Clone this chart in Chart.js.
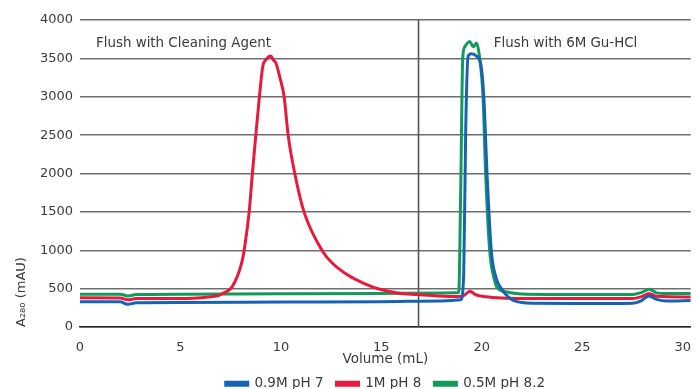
<!DOCTYPE html>
<html>
<head>
<meta charset="utf-8">
<script src="https://cdn.jsdelivr.net/npm/chart.js@4/dist/chart.umd.min.js"></script>
<style>
html,body{margin:0;padding:0;background:#fff;}
#wrap{width:696px;height:389px;position:relative;}
</style>
</head>
<body>
<div id="wrap"><canvas id="c"></canvas></div>
<script>
// ---- data ----
const seriesNames = ['0.9M pH 7', '1M pH 8', '0.5M pH 8.2'];
const xTicks = [0, 5, 10, 15, 20, 25, 30];
const yTicks = [0, 500, 1000, 1500, 2000, 2500, 3000, 3500, 4000];

const blueX = [0, 2.0, 2.37, 2.8, 5, 10, 15, 18.0, 18.95, 19.1, 19.2, 19.32, 19.49, 19.73, 19.95, 20.1, 20.26, 20.47, 20.7, 20.97, 21.25, 21.54, 22.0, 22.5, 25, 27.5, 27.95, 28.32, 28.7, 29.2, 30.4];
const blueY = [330, 328, 295, 315, 318, 325, 330, 340, 355, 700, 2600, 3530, 3560, 3530, 3420, 3000, 2000, 1000, 650, 500, 410, 350, 318, 308, 305, 310, 345, 405, 360, 338, 345];

const redX = [0, 2.0, 2.37, 2.8, 5, 5.6, 6.5, 6.9, 7.1, 7.57, 8.06, 8.2, 8.42, 8.58, 8.75, 8.93, 9.1, 9.25, 9.5, 9.62, 9.75, 9.95, 10.16, 10.36, 10.69, 11.15, 12.09, 12.49, 13.33, 14.15, 14.96, 15.79, 16.78, 17.77, 18.76, 19.1, 19.41, 19.7, 20.2, 21.0, 22.0, 27.5, 27.95, 28.32, 28.7, 30.4];
const redY = [380, 378, 355, 370, 372, 375, 395, 410, 436, 523, 850, 1050, 1500, 2000, 2500, 3000, 3400, 3480, 3530, 3480, 3440, 3250, 3000, 2500, 2000, 1500, 980, 850, 676, 566, 488, 444, 422, 405, 396, 410, 466, 420, 395, 378, 372, 370, 395, 436, 400, 392];

const greenX = [0, 2.0, 2.37, 2.8, 5, 10, 15, 18.0, 18.85, 18.95, 19.05, 19.15, 19.4, 19.57, 19.73, 19.87, 20.06, 20.19, 20.39, 20.64, 20.8, 21.2, 22.0, 25, 27.5, 27.95, 28.32, 28.7, 29.2, 30.4];
const greenY = [428, 428, 405, 422, 428, 432, 438, 444, 448, 1800, 3500, 3650, 3720, 3650, 3700, 3550, 3000, 2000, 1000, 600, 500, 460, 430, 422, 422, 450, 493, 445, 435, 436];

const divideX = 16.85;
const leftNote = 'Flush with Cleaning Agent';
const rightNote = 'Flush with 6M Gu-HCl';
const xTitle = 'Volume (mL)';
const yTitle = 'A\u2082\u2088\u2080 (mAU)';

const colors = ['#1763b3', '#e8193c', '#119a5c'];

function pts(xs, ys){ return xs.map((x,i)=>({x:x, y:ys[i]})); }

const FONT = 'DejaVu Sans';
const TXT = '#3a3a3a';

const notePlugin = {
  id: 'notes',
  beforeDatasetsDraw(chart){
    const {ctx, scales} = chart;
    const px = scales.x.getPixelForValue(divideX);
    ctx.save();
    ctx.strokeStyle = '#555';
    ctx.lineWidth = 1.6;
    ctx.beginPath();
    ctx.moveTo(px, scales.y.getPixelForValue(4000));
    ctx.lineTo(px, scales.y.getPixelForValue(0));
    ctx.stroke();
    ctx.fillStyle = TXT;
    ctx.font = '13.4px "' + FONT + '"';
    ctx.textBaseline = 'middle';
    ctx.textAlign = 'left';
    const ty = scales.y.getPixelForValue(3690);
    ctx.fillText(leftNote, scales.x.getPixelForValue(0.8), ty);
    ctx.fillText(rightNote, scales.x.getPixelForValue(20.6), ty);
    ctx.restore();
  }
};

const mk = (i, xs, ys) => ({
  label: seriesNames[i],
  data: pts(xs, ys),
  borderColor: colors[i],
  backgroundColor: colors[i],
  borderWidth: 3,
  pointRadius: 0,
  cubicInterpolationMode: 'monotone',
  fill: false
});

new Chart(document.getElementById('c'), {
  type: 'line',
  data: {
    datasets: [mk(0, blueX, blueY), mk(1, redX, redY), mk(2, greenX, greenY)]
  },
  options: {
    responsive: true,
    maintainAspectRatio: false,
    animation: false,
    layout: { padding: { top: 20, right: 0, left: 0, bottom: -11.5 } },
    plugins: {
      legend: {
        position: 'bottom',
        fullSize: false,
        labels: {
          boxWidth: 22, boxHeight: 3, padding: 13,
          color: TXT,
          font: { family: FONT, size: 13.5 }
        }
      },
      tooltip: { enabled: false }
    },
    scales: {
      x: {
        type: 'linear', min: 0, max: 30.4,
        afterBuildTicks: (s) => { s.ticks = xTicks.map(v => ({value: v})); },
        afterFit: (s) => { s.height = 37; },
        ticks: { color: TXT, font: { family: FONT, size: 13 }, padding: 5, maxRotation: 0,
                 callback: (v) => String(v) },
        grid: { display: false },
        border: { display: true, color: '#222', width: 1.5 },
        title: { display: true, text: xTitle, color: TXT, font: { family: FONT, size: 13.5 }, padding: { top: 0, bottom: -4 } }
      },
      y: {
        min: 0, max: 4000,
        afterBuildTicks: (s) => { s.ticks = yTicks.map(v => ({value: v})); },
        afterFit: (s) => { s.width = 80; },
        ticks: { color: TXT, font: { family: FONT, size: 13 }, padding: 7,
                 callback: (v) => String(v) },
        grid: { color: '#6e6e6e', lineWidth: 1.5, drawTicks: false },
        border: { display: false },
        title: { display: true, text: yTitle, align: 'start', color: TXT, font: { family: FONT, size: 13 }, padding: { top: 14, bottom: 0 } }
      }
    }
  },
  plugins: [notePlugin]
});
</script>
</body>
</html>
